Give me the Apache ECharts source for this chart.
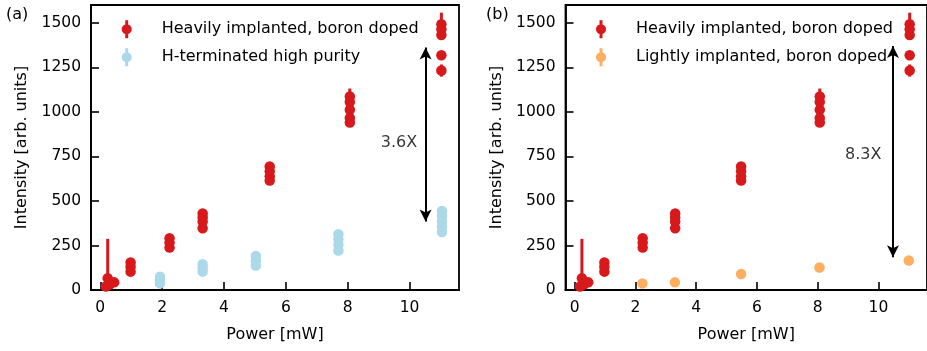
<!DOCTYPE html>
<html><head><meta charset="utf-8">
<script src="https://cdn.jsdelivr.net/npm/echarts@6/dist/echarts.min.js"></script>
<style>html,body{margin:0;padding:0;background:#fff}#c{width:927px;height:351px}</style>
</head><body><div id="c"></div>
<script>
// ---- data: [power mW, intensity, error] ----
const heavyPoints = [
  [0.18, 20, 15], [0.30, 30, 15], [0.24, 66, 221], [0.45, 43, 15],
  [0.98, 154, 20], [0.98, 129, 20], [0.98, 103, 20],
  [2.24, 291, 20], [2.24, 266, 20], [2.24, 238, 20],
  [3.31, 429, 20], [3.31, 407, 20], [3.31, 384, 20], [3.31, 347, 20],
  [5.48, 694, 20], [5.48, 666, 20], [5.48, 638, 20], [5.48, 615, 20],
  [8.07, 1087, 44], [8.07, 1055, 20], [8.07, 1012, 20], [8.07, 966, 20], [8.07, 940, 20],
  [11.03, 1492, 65], [11.03, 1464, 20], [11.03, 1432, 20],
  [11.03, 1318, 20], [11.03, 1232, 34]
];
const hTermPoints = [
  [1.93, 75, 15], [1.93, 57, 15], [1.93, 37, 15],
  [3.31, 145, 15], [3.31, 125, 15], [3.31, 103, 15],
  [5.03, 191, 15], [5.03, 165, 15], [5.03, 137, 15],
  [7.70, 313, 15], [7.70, 285, 15], [7.70, 255, 15], [7.70, 222, 15],
  [11.05, 444, 15], [11.05, 415, 15], [11.05, 385, 15], [11.05, 355, 15], [11.05, 325, 15]
];
const lightPoints = [
  [2.23, 37, 10], [3.30, 43, 10], [5.48, 90, 10], [8.06, 126, 10], [11.0, 165, 10]
];
const xTicks = [0, 2, 4, 6, 8, 10];
const yTicks = [0, 250, 500, 750, 1000, 1250, 1500];
const arrowA = [10.52, 1362, 385];
const arrowB = [10.48, 1370, 184];
const ratioA = {x: 9.66, y: 827, text: '3.6X'};
const ratioB = {x: 9.5, y: 759, text: '8.3X'};
const nameHeavy = 'Heavily implanted, boron doped';
const nameHTerm = 'H-terminated high purity';
const nameLight = 'Lightly implanted, boron doped';

const RED = '#d7191c', BLUE = '#abd9e9', ORANGE = '#fdae61';
const FONT = 'DejaVu Sans';

function xAx(gi) {
  return {
    type: 'value', gridIndex: gi, min: -0.3, max: 11.6,
    name: 'Power [mW]', nameLocation: 'middle', nameGap: 37,
    nameTextStyle: {fontFamily: FONT, fontSize: 16, color: '#000'},
    axisLine: {show: true, onZero: false, lineStyle: {color: '#000', width: 1.8}},
    axisTick: {show: true, inside: true, length: 8, customValues: xTicks, lineStyle: {color: '#000', width: 1.6}},
    axisLabel: {show: true, customValues: xTicks, margin: 10, fontFamily: FONT, fontSize: 15.5, color: '#000',
      formatter: v => String(v)},
    splitLine: {show: false}
  };
}
function yAx(gi) {
  return {
    type: 'value', gridIndex: gi, min: 0, max: 1600,
    name: 'Intensity [arb. units]', nameLocation: 'middle', nameGap: 61,
    nameTextStyle: {fontFamily: FONT, fontSize: 16, color: '#000'},
    axisLine: {show: true, onZero: false, lineStyle: {color: '#000', width: 1.8}},
    axisTick: {show: true, inside: true, length: 8, customValues: yTicks, lineStyle: {color: '#000', width: 1.6}},
    axisLabel: {show: true, customValues: yTicks, margin: 10, fontFamily: FONT, fontSize: 15.5, color: '#000',
      formatter: v => String(v)},
    splitLine: {show: false}
  };
}
function errBars(gi, data, color) {
  return {
    type: 'custom', xAxisIndex: gi, yAxisIndex: gi, data: data, clip: true, silent: true, z: 2,
    renderItem: function (params, api) {
      const x = api.value(0), y = api.value(1), e = api.value(2);
      const p1 = api.coord([x, y + e]);
      const p2 = api.coord([x, y - e]);
      return {type: 'rect', shape: {x: p1[0] - 1.5, y: p1[1], width: 3, height: p2[1] - p1[1]},
        style: {fill: color}};
    }
  };
}
function pts(gi, data, color, name) {
  return {
    type: 'scatter', name: name, xAxisIndex: gi, yAxisIndex: gi, z: 3,
    data: data.map(d => [d[0], d[1]]), symbol: 'circle', symbolSize: 10.5,
    itemStyle: {color: color, opacity: 1}, silent: true
  };
}
function arrow(gi, a, t) {
  return {
    type: 'scatter', xAxisIndex: gi, yAxisIndex: gi, symbolSize: 0, silent: true,
    data: [{value: [t.x, t.y], name: t.text}],
    label: {show: true, position: 'inside', formatter: '{b}', fontFamily: FONT, fontSize: 16, color: '#000'},
    markLine: {
      silent: true, symbol: ['arrow', 'arrow'], symbolSize: [9, 12], animation: false,
      lineStyle: {color: '#000', width: 2, type: 'solid'}, label: {show: false},
      data: [[{coord: [a[0], a[1]]}, {coord: [a[0], a[2]]}]]
    }
  };
}
const iconPath = 'path://M3.5,0L6.5,0L6.5,18L3.5,18Z' +
  'M5,4C7.761,4 10,6.239 10,9C10,11.761 7.761,14 5,14C2.239,14 0,11.761 0,9C0,6.239 2.239,4 5,4Z';
function leg(left, names) {
  return {
    left: left, top: 20.3, orient: 'vertical', itemWidth: 10, itemHeight: 18, itemGap: 10,
    padding: 0, icon: iconPath, data: names, selectedMode: false,
    itemStyle: {borderWidth: 0},
    textStyle: {fontFamily: FONT, fontSize: 16, color: '#000', lineHeight: 18, padding: [0, 0, 0, 25]}
  };
}

const chart = echarts.init(document.getElementById('c'), null, {renderer: 'canvas'});
chart.setOption({
  animation: false,
  backgroundColor: '#fff',
  title: [
    {text: '(a)', left: 6, top: 7, padding: 0, textStyle: {fontFamily: FONT, fontSize: 16, fontWeight: 'normal', color: '#000'}},
    {text: '(b)', left: 486, top: 7, padding: 0, textStyle: {fontFamily: FONT, fontSize: 16, fontWeight: 'normal', color: '#000'}}
  ],
  legend: [leg(121.7, [nameHeavy, nameHTerm]), leg(596, [nameHeavy, nameLight])],
  grid: [
    {left: 91, top: 5, width: 368, height: 285, show: true, borderColor: '#000', borderWidth: 1.8, containLabel: false},
    {left: 565.5, top: 5, width: 368, height: 285, show: true, borderColor: '#000', borderWidth: 1.8, containLabel: false}
  ],
  xAxis: [xAx(0), xAx(1)],
  yAxis: [yAx(0), yAx(1)],
  series: [
    errBars(0, hTermPoints, BLUE), pts(0, hTermPoints, BLUE, nameHTerm),
    errBars(0, heavyPoints, RED), pts(0, heavyPoints, RED, nameHeavy),
    arrow(0, arrowA, ratioA),
    errBars(1, lightPoints, ORANGE), pts(1, lightPoints, ORANGE, nameLight),
    errBars(1, heavyPoints, RED), pts(1, heavyPoints, RED, nameHeavy),
    arrow(1, arrowB, ratioB)
  ]
});
</script></body></html>
